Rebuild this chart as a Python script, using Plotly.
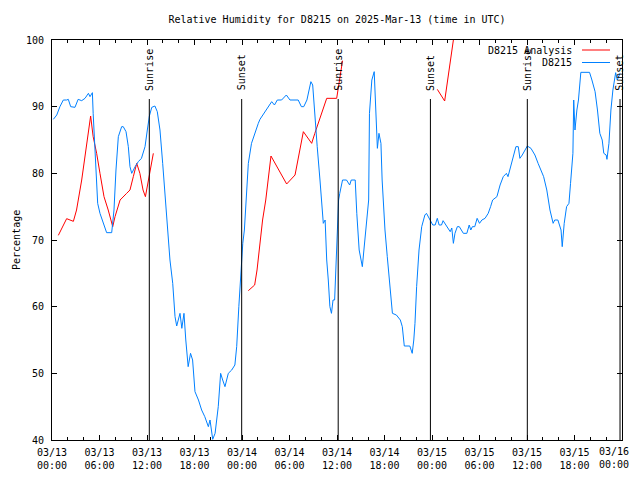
import plotly.graph_objects as go

# ---- data (hours since 2025-03-13 00:00 UTC) ----
obs_hours = [0.17, 0.6, 1.0, 1.43, 1.85, 2.06, 2.36, 2.9, 3.3, 3.75, 4.17, 4.6, 4.8, 5.1, 5.2, 5.43, 5.64, 5.77,
             6.06, 6.27, 6.7, 6.9, 7.54, 7.67, 7.83, 8.08, 8.38, 8.8, 9.0, 9.35, 9.64, 9.85, 10.07, 10.5, 10.9,
             11.3, 11.75, 12.04, 12.3, 12.6, 13.0, 13.3, 13.64, 13.98, 14.27, 14.57, 14.73, 14.9, 15.25, 15.54,
             15.75, 16.17, 16.4, 16.67, 16.9, 17.2, 17.5, 17.76, 18.06, 18.5, 18.9, 19.3, 19.75, 19.96, 20.3,
             20.6, 21.0, 21.3, 21.56, 21.85, 22.27, 22.7, 23.1, 23.33, 23.6, 23.87, 24.1, 24.3, 24.6, 24.8, 25.2,
             25.6, 26.06, 26.27, 26.9, 27.3, 27.75, 28.1, 28.46, 29.0, 29.6, 30.06, 31.1, 31.5, 31.8, 32.2, 32.7,
             32.93, 33.2, 33.5, 33.85, 34.06, 34.27, 34.5, 34.7, 34.9, 35.1, 35.3, 35.5, 35.7, 35.96, 36.2, 36.35,
             36.7, 37.2, 37.6, 37.8, 38.3, 38.5, 38.8, 39.2, 39.5, 40.0, 40.1, 40.4, 40.7, 41.0, 41.1, 41.3, 41.55,
             41.7, 42.06, 42.35, 42.7, 43.0, 43.5, 44.0, 44.25, 44.5, 45.2, 45.5, 45.7, 45.85, 46.06, 46.36, 46.7,
             47.1, 47.3, 47.5, 47.8, 48.1, 48.4, 48.67, 48.9, 49.2, 49.4, 49.85, 50.3, 50.5, 50.7, 50.9, 51.2,
             51.45, 51.96, 52.4, 52.7, 52.9, 53.1, 53.4, 53.7, 54.0, 54.3, 54.7, 55.1, 55.4, 55.66, 56.2, 56.6,
             57.0, 57.4, 57.6, 58.06, 58.3, 58.6, 58.9, 59.1, 59.4, 60.04, 60.5, 61.0, 61.4, 61.85, 62.1, 62.5,
             62.9, 63.3, 63.5, 63.9, 64.3, 64.45, 64.7, 65.0, 65.3, 65.5, 65.8, 65.9, 66.06, 66.3, 66.5, 66.8,
             67.9, 68.2, 68.6, 68.9, 69.2, 69.5, 69.7, 70.0, 70.1, 70.35, 70.6, 70.85, 71.2, 71.4, 71.75]
obs_rh = [88.1, 88.75, 90, 91, 91, 91.1, 90, 89.9, 91.1, 90.9, 91.25, 92, 91.5, 92.1, 89, 84, 79, 75.5,
          74, 73.25, 71.5, 71.1, 71.1, 72.5, 74.5, 80.5, 85.5, 87, 87, 86.25, 84, 81, 80, 81, 81.75,
          82.25, 84, 86.5, 88.6, 89.9, 90.1, 89.25, 86.5, 81.5, 76.5, 72.5, 70, 67, 63.5, 58.5,
          57.1, 59, 56.75, 59, 55, 51, 53, 52, 47.25, 46, 44.5, 43.5, 42, 43, 40.1,
          41, 45, 50, 49, 48, 50, 50.5, 51.25, 54, 60, 66, 69.5, 71.5, 77.5, 81.5, 84.5,
          86, 87.5, 88.1, 89.25, 90, 90.75, 90.25, 91, 91, 91.75, 91, 91, 90, 90, 91, 93.75,
          93.25, 88.5, 84, 79, 75.5, 72.5, 73, 67, 64, 60, 59, 61, 61, 68, 76, 77,
          79, 79, 78.25, 79, 79, 74, 68.5, 66, 70, 76, 89, 94, 95.25, 86.5, 83.75, 86, 84.5,
          79, 71.5, 67.5, 62.5, 59, 58.75, 58, 57, 54.1, 54.1, 53, 55, 57.5, 63, 68.5, 72,
          73.75, 74, 73.5, 72.75, 72.25, 72.25, 73.25, 72.25, 72.25, 72.9, 72.1, 71.25, 71.8, 69.5, 71, 72,
          72, 71, 71, 72.25, 71.5, 72, 72, 73.25, 72.5, 73, 73.25, 74, 75, 76, 76.5, 78.25,
          79.5, 80, 79.5, 81.5, 82.5, 84, 84, 82.25, 82.75, 84.1, 83.75, 82.75, 81.5, 80, 79.5, 77.5,
          74.5, 72.5, 73, 73, 71.5, 69, 72.5, 75, 75.5, 78.5, 83, 91, 86.5, 89.5, 91, 95.15,
          95.15, 94, 92.25, 89.5, 86, 85, 83, 82.75, 82.1, 84.5, 89.5, 92.5, 95.1, 94, 95]

ana_hours = [0.8, 1.85, 2.7, 3.1, 3.75, 4.4, 4.88, 5.2, 5.64, 6.06, 6.57, 7.1, 7.67, 7.96, 8.6, 9.43, 9.85,
             10.27, 10.7, 11.1, 11.5, 11.8, 12.04, 12.4, 12.8, 18.0,
             24.8, 25.6, 25.9, 26.3, 26.6, 27.0, 27.66, 29.64, 30.7, 31.75, 32.8, 33.2, 34.7, 35.96, 36.7, 42.0,
             48.67, 49.6, 50.7, 51.2]
ana_rh = [70.7, 73.2, 72.8, 74.5, 79, 85, 88.6, 85.5, 83, 80, 76.5, 74.5, 72, 73.5, 76, 77, 77.5,
          79.5, 81.5, 80, 77.5, 76.5, 78, 80, 83, None,
          62.4, 63.25, 65.5, 69.5, 73, 76, 82.6, 78.4, 79.75, 86.25, 84.5, 86, 91.25, 91.25, 96.9, None,
          92.6, 90.85, 100, 104]

sun_hours = [12.29, 23.96, 36.15, 47.8, 60.04, 71.75]
sun_labels = ["Sunrise", "Sunset", "Sunrise", "Sunset", "Sunrise", "Sunset"]

tick_hours = list(range(0, 73, 6))
tick_labels = ["03/13<br>00:00", "03/13<br>06:00", "03/13<br>12:00", "03/13<br>18:00",
               "03/14<br>00:00", "03/14<br>06:00", "03/14<br>12:00", "03/14<br>18:00",
               "03/15<br>00:00", "03/15<br>06:00", "03/15<br>12:00", "03/15<br>18:00",
               "03/16<br>00:00"]

FONT = "DejaVu Sans Mono"
RED = "#ff0000"
BLUE = "#0080ff"

# the page body has an 8px margin, so the figure is sized/placed to compensate
W, H = 632, 464

fig = go.Figure()
fig.add_trace(go.Scatter(x=ana_hours, y=ana_rh, mode="lines", line=dict(color=RED, width=1),
                         name="D8215 Analysis", connectgaps=False, showlegend=False))
fig.add_trace(go.Scatter(x=obs_hours, y=obs_rh, mode="lines", line=dict(color=BLUE, width=1),
                         name="D8215", showlegend=False))

for h, lab in zip(sun_hours, sun_labels):
    fig.add_shape(type="line", x0=h, x1=h, y0=40, y1=91.15, xref="x", yref="y",
                  line=dict(color="black", width=1))
    fig.add_annotation(x=h, y=92.1, xref="x", yref="y", text=lab, textangle=-90, showarrow=False,
                       xanchor="center", yanchor="bottom", font=dict(family=FONT, size=10, color="black"))

# legend (gnuplot style: text then sample)
leg = [("D8215 Analysis", RED, 50), ("D8215", BLUE, 62.5)]
for txt, col, py in leg:
    yp = (440 - py) / 400
    fig.add_annotation(x=(574 - 52) / 570, y=yp, xref="paper", yref="paper", text=txt, showarrow=False,
                       xanchor="right", yanchor="middle", font=dict(family=FONT, size=10, color="black"))
    fig.add_shape(type="line", xref="paper", yref="paper", x0=(582 - 52) / 570, x1=(610 - 52) / 570,
                  y0=yp, y1=yp, line=dict(color=col, width=1))

# last tick label would be clipped at the page edge: draw it as a right-aligned text instead
axis_ticktext = tick_labels[:-1] + [""]
fig.add_annotation(x=(631 - 52) / 570, y=(440 - 458.5) / 400, xref="paper", yref="paper",
                   text=tick_labels[-1], showarrow=False, xanchor="right", yanchor="middle",
                   font=dict(family=FONT, size=10, color="black"))

fig.add_annotation(x=(8.5 - 52) / 570, y=0.5, xref="paper", yref="paper", text="Percentage", textangle=-90,
                   showarrow=False, xanchor="left", yanchor="middle",
                   font=dict(family=FONT, size=10, color="black"))

fig.update_layout(
    width=W, height=H,
    margin=dict(l=44, r=18, t=32, b=32, autoexpand=False),
    paper_bgcolor="white", plot_bgcolor="white",
    font=dict(family=FONT, size=10, color="black"),
    title=dict(text="Relative Humidity for D8215 on 2025-Mar-13 (time in UTC)", x=329 / W, xanchor="center",
               y=1 - 11 / H, yanchor="middle", font=dict(family=FONT, size=10, color="black")),
    showlegend=False,
)
fig.update_xaxes(range=[0, 72], tickvals=tick_hours, ticktext=axis_ticktext, ticks="inside", ticklen=5,
                 tickcolor="black", showgrid=False, zeroline=False, showline=True, linecolor="black",
                 linewidth=1, mirror="allticks", automargin=False, ticklabelstandoff=3,
                 minor=dict(dtick=2, tick0=0, ticks="inside", ticklen=3, tickcolor="black", showgrid=False))
fig.update_yaxes(range=[40, 100], dtick=10, tick0=40, ticks="inside", ticklen=5, tickcolor="black",
                 showgrid=False, zeroline=False, showline=True, linecolor="black", linewidth=1,
                 mirror="allticks", automargin=False, ticklabelstandoff=5)

fig.write_html("out.html")
